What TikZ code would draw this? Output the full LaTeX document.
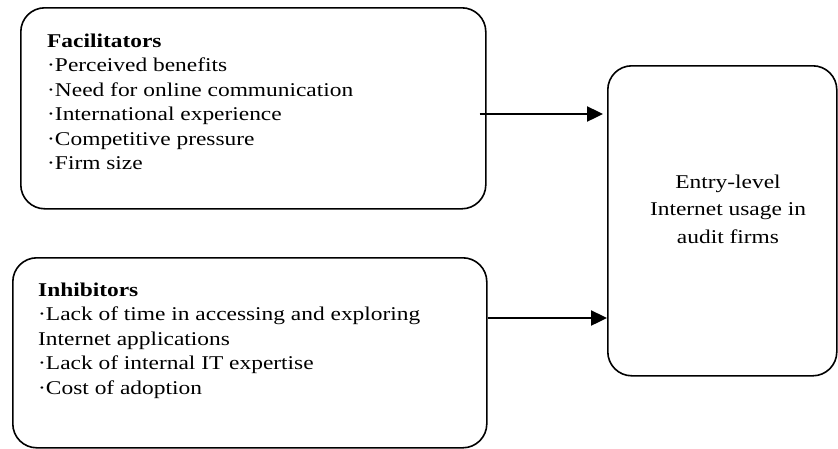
\documentclass[tikz,border=0pt]{standalone}
\usepackage{fontspec}
\setmainfont{Liberation Serif}[FakeStretch=1.2]
\usetikzlibrary{arrows.meta}
\usetikzlibrary{positioning}

\tikzset{
  panel/.style={draw, line width=1.6pt, rounded corners=24pt, inner sep=0pt},
  items/.style={align=left, inner sep=0pt, font=\fontsize{19.5}{24.5}\selectfont},
  result/.style={align=center, inner sep=0pt, font=\fontsize{19.5}{27.5}\selectfont},
  link/.style={-{Triangle[length=16pt,width=15pt]}, line width=2.4pt},
}

\begin{document}
\begin{tikzpicture}[x=1pt,y=-1pt]
\useasboundingbox (0,0) rectangle (838,448);
% boxes
\node[panel, anchor=north west, minimum width=465pt, minimum height=201pt] (fac) at (20,7) {};
\node[panel, anchor=north west, minimum width=474pt, minimum height=190pt] (inh) at (12,257) {};
\node[panel, anchor=north west, minimum width=229pt, minimum height=310pt] (usage) at (607,65) {};
% texts
\node[items, anchor=north west] (factext) at (47,33.5) {\textbf{Facilitators}\\·Perceived benefits\\·Need for online communication\\·International experience\\·Competitive pressure\\·Firm size};
\node[items, anchor=north west] (inhtext) at (38,282.5) {\textbf{Inhibitors}\\·Lack of time in accessing and exploring\\Internet applications\\·Lack of internal IT expertise\\·Cost of adoption};
\node[result, anchor=north] (usagetext) at (728,174.5) {Entry-level\\Internet usage in\\audit firms};
% arrows
\draw[link] ([xshift=-7pt]fac.east |- 0,114) -- ([xshift=-4pt]usage.west |- 0,114);
\draw[link] (inh.east |- 0,318) -- (usage.west |- 0,318);
\end{tikzpicture}
\end{document}
